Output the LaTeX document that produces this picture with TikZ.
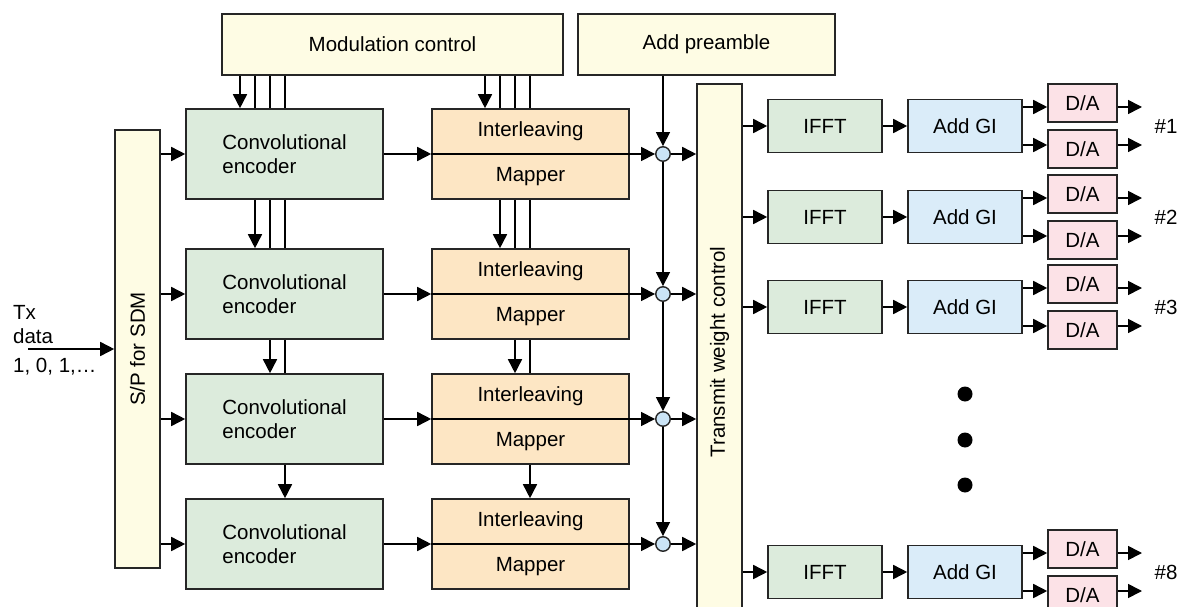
\documentclass[tikz,border=0pt]{standalone}
\usepackage{fontspec}
\setmainfont{Liberation Sans}
\usetikzlibrary{arrows.meta,calc}
\definecolor{cyel}{HTML}{FEFCE4}
\definecolor{cgreen}{HTML}{DCEBDC}
\definecolor{corange}{HTML}{FDE6C4}
\definecolor{cblue}{HTML}{DAECF9}
\definecolor{cpink}{HTML}{FCE2E7}
\definecolor{ccirc}{HTML}{CBE4F6}
\definecolor{cline}{HTML}{262626}
\begin{document}
\begin{tikzpicture}[x=1pt,y=-1pt,
  font=\fontsize{20.5}{24}\selectfont,
  box/.style={draw=cline, line width=1.6pt, inner sep=0pt, align=center},
  arr/.style={-{Triangle[length=14pt,width=14pt]}, line width=1.6pt, draw=black},
  ln/.style={line width=1.6pt, draw=black},
  circ/.style={circle, draw=cline, fill=ccirc, line width=1.4pt, minimum size=14.5pt, inner sep=0pt},
  dot/.style={circle, fill=black, minimum size=15pt, inner sep=0pt}]
\useasboundingbox (0,0) rectangle (1183,607);
\clip (0,0) rectangle (1183,607);

% top boxes
\node[box, fill=cyel, minimum width=341pt, minimum height=61pt] (mod) at (392.5,44.5) {Modulation control};
\node[box, fill=cyel, minimum width=257pt, minimum height=61pt] (pre) at (706.5,44.5) {Add preamble};

% S/P and transmit weight control
\node[box, fill=cyel, minimum width=45pt, minimum height=438pt,
  label={[rotate=90]center:S/P for SDM}] (sp) at (137.5,349) {};
\node[box, fill=cyel, minimum width=45pt, minimum height=536pt,
  label={[rotate=90]center:Transmit weight control}] (tw) at (719.5,352) {};

% Tx data
\coordinate (txin) at (28,349);
\node[anchor=west, align=left, inner sep=0pt] (txd) at (13,324.5) {Tx\\data};
\node[anchor=west, inner sep=0pt] (txv) at (13,367) {1, 0, 1,…};
\draw[arr] (txin) -- (txin -| sp.west);

% rows of encoders and interleavers
\foreach \i/\y in {1/154,2/294,3/419,4/544} {
  \node[box, fill=cgreen, minimum width=197pt, minimum height=90pt, align=left] (enc\i) at (284.5,\y) {Convolutional\\encoder};
  \node[box, fill=corange, minimum width=197pt, minimum height=90pt] (int\i) at (530.5,\y) {};
  \draw[ln] (int\i.west) -- (int\i.east);
  \node (il\i) at ($(int\i.center)+(0,-22.5)$) {Interleaving};
  \node (mp\i) at ($(int\i.center)+(0,22.5)$) {Mapper};
  \node[circ] (c\i) at (663,\y) {};
  \draw[arr] (sp.east |- enc\i) -- (enc\i.west);
  \draw[arr] (enc\i.east) -- (int\i.west);
  \draw[arr] (int\i.east) -- (c\i);
  \draw[arr] (c\i) -- (c\i -| tw.west);
}

% control bundles to encoders
\draw[arr] (240,0 |- mod.south) -- (240,0 |- enc1.north);
\foreach \x in {255,270,285} \draw[ln] (\x,0 |- mod.south) -- (\x,0 |- enc1.north);
\draw[arr] (255,0 |- enc1.south) -- (255,0 |- enc2.north);
\foreach \x in {270,285} \draw[ln] (\x,0 |- enc1.south) -- (\x,0 |- enc2.north);
\draw[arr] (270,0 |- enc2.south) -- (270,0 |- enc3.north);
\draw[ln] (285,0 |- enc2.south) -- (285,0 |- enc3.north);
\draw[arr] (285,0 |- enc3.south) -- (285,0 |- enc4.north);

% control bundles to interleavers
\draw[arr] (485,0 |- mod.south) -- (485,0 |- int1.north);
\foreach \x in {500,515,530} \draw[ln] (\x,0 |- mod.south) -- (\x,0 |- int1.north);
\draw[arr] (500,0 |- int1.south) -- (500,0 |- int2.north);
\foreach \x in {515,530} \draw[ln] (\x,0 |- int1.south) -- (\x,0 |- int2.north);
\draw[arr] (515,0 |- int2.south) -- (515,0 |- int3.north);
\draw[ln] (530,0 |- int2.south) -- (530,0 |- int3.north);
\draw[arr] (530,0 |- int3.south) -- (530,0 |- int4.north);

% preamble chain
\draw[arr] (c1 |- pre.south) -- (c1);
\draw[arr] (c1) -- (c2);
\draw[arr] (c2) -- (c3);
\draw[arr] (c3) -- (c4);

% output branches
\foreach \r/\y in {1/126,2/217,3/307,8/572} {
  \node[box, fill=cgreen, minimum width=114pt, minimum height=53pt] (ifft\r) at (825,\y) {IFFT};
  \node[box, fill=cblue, minimum width=114pt, minimum height=53pt] (gi\r) at (965,\y) {Add GI};
  \node[box, fill=cpink, minimum width=69pt, minimum height=38pt] (dau\r) at (1082.5,\y-23) {D/A};
  \node[box, fill=cpink, minimum width=69pt, minimum height=38pt] (dad\r) at (1082.5,\y+23) {D/A};
  \coordinate (ou\r) at (1142,\y-19);
  \coordinate (od\r) at (1142,\y+19);
  \draw[arr] (tw.east |- ifft\r) -- (ifft\r.west);
  \draw[arr] (ifft\r.east) -- (gi\r.west);
  \draw[arr] (gi\r.east |- ou\r) -- (dau\r.west |- ou\r);
  \draw[arr] (gi\r.east |- od\r) -- (dad\r.west |- od\r);
  \draw[arr] (dau\r.east |- ou\r) -- (ou\r);
  \draw[arr] (dad\r.east |- od\r) -- (od\r);
  \node (lab\r) at (1166,\y) {\#\r};
}

% ellipsis dots
\node[dot] (d1) at (965,394) {};
\node[dot] (d2) at (965,440) {};
\node[dot] (d3) at (965,485) {};
\end{tikzpicture}
\end{document}
